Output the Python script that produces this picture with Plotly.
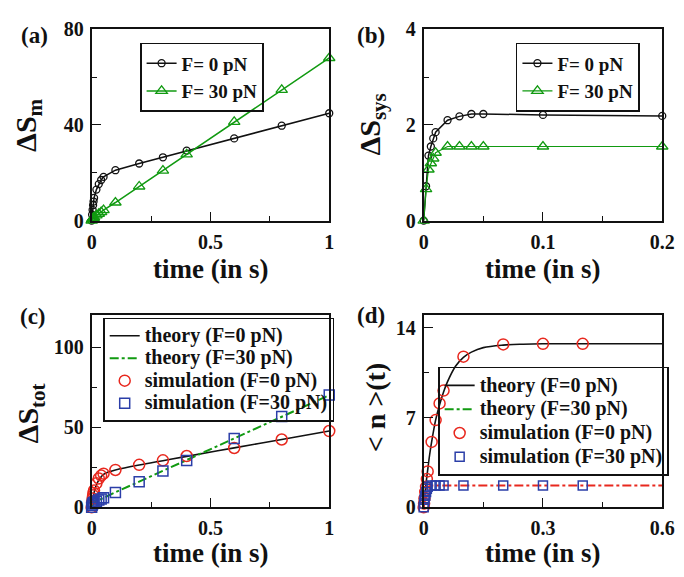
import plotly.graph_objects as go

# ---------------- data ----------------
# (a) Delta S_m
t_a = [0, 0.002, 0.004, 0.006, 0.008, 0.01, 0.02, 0.03, 0.04, 0.05, 0.1, 0.2, 0.3, 0.4, 0.6, 0.8, 1.0]
sm_f0 = [0, 2.5, 4.5, 6.5, 8.0, 9.5, 13.0, 15.3, 17.0, 18.3, 21.1, 23.9, 26.5, 29.3, 34.4, 39.7, 44.9]
sm_f30 = [0, 0.5, 0.8, 1.0, 1.2, 1.4, 2.2, 2.9, 3.6, 4.4, 7.6, 14.3, 20.9, 27.7, 41.3, 54.7, 68.0]

# (b) Delta S_sys
t_b = [0, 0.002, 0.004, 0.006, 0.008, 0.01, 0.02, 0.03, 0.04, 0.05, 0.1, 0.2]
ssys_f0 = [0, 0.72, 1.36, 1.55, 1.72, 1.85, 2.10, 2.18, 2.23, 2.23, 2.21, 2.19]
ssys_f30 = [0, 0.66, 1.07, 1.20, 1.30, 1.42, 1.55, 1.55, 1.55, 1.55, 1.55, 1.55]

# (c) Delta S_tot
t_c_th0 = [0, 0.005, 0.01, 0.02, 0.03, 0.04, 0.05, 0.07, 0.1, 0.2, 0.3, 0.4, 0.6, 0.8, 1.0]
stot_th0 = [0, 5.0, 9.0, 14.0, 17.0, 19.0, 20.5, 22.0, 23.3, 26.4, 29.1, 31.8, 37.1, 42.3, 47.6]
t_c_th30 = [0, 0.01, 0.02, 0.05, 0.1, 0.2, 0.4, 0.6, 0.8, 1.0]
stot_th30 = [0, 3.0, 3.8, 6.0, 9.4, 16.0, 29.4, 43.0, 56.5, 70.0]
t_c_sim = [0, 0.002, 0.004, 0.006, 0.008, 0.01, 0.02, 0.03, 0.04, 0.05, 0.1, 0.2, 0.3, 0.4, 0.6, 0.8, 1.0]
stot_sim0 = [0, 3.0, 5.5, 7.5, 9.0, 10.5, 15.0, 18.0, 19.8, 21.0, 23.3, 26.5, 29.3, 32.0, 37.0, 42.3, 47.6]
stot_sim30 = [0, 1.3, 2.0, 2.5, 2.8, 3.1, 3.8, 4.5, 5.2, 5.9, 9.2, 16.0, 22.6, 29.2, 43.0, 56.6, 70.0]

# (d) <n>(t)
t_d_th0 = [0, 0.005, 0.01, 0.015, 0.02, 0.03, 0.04, 0.05, 0.06, 0.08, 0.1, 0.12, 0.15, 0.2, 0.25, 0.3, 0.4, 0.5, 0.6]
n_th0 = [0, 1.6, 2.9, 4.1, 5.1, 6.8, 8.0, 9.0, 9.8, 11.0, 11.7, 12.1, 12.45, 12.65, 12.72, 12.75, 12.75, 12.75, 12.75]
t_d_th30 = [0, 0.002, 0.005, 0.01, 0.02, 0.6]
n_th30 = [0, 0.7, 1.3, 1.6, 1.7, 1.7]
t_d_sim0 = [0, 0.001, 0.002, 0.004, 0.006, 0.008, 0.01, 0.02, 0.03, 0.04, 0.05, 0.1, 0.2, 0.3, 0.4]
n_sim0 = [0, 0.3, 0.7, 1.2, 1.6, 2.2, 2.8, 5.1, 6.8, 8.1, 9.1, 11.75, 12.7, 12.75, 12.75]
t_d_sim30 = [0, 0.001, 0.002, 0.004, 0.006, 0.008, 0.01, 0.02, 0.03, 0.04, 0.05, 0.1, 0.2, 0.3, 0.4]
n_sim30 = [0, 0.3, 0.6, 0.9, 1.2, 1.45, 1.6, 1.7, 1.7, 1.7, 1.7, 1.7, 1.7, 1.7, 1.7]

# ---------------- style ----------------
W, H = 684, 577
FONT = "Liberation Serif"
BLACK = "#111111"
GREEN = "#119a11"
RED = "#e8281e"
BLUE = "#2b3ea8"

def px(x):
    return x / W

def py(y):
    return 1 - y / H

def big(name, size):
    return '<span style="font-size:%dpx">%s</span>' % (size, name)

fig = go.Figure()

# (a)
fig.add_trace(go.Scatter(x=t_a, y=sm_f0, mode="lines+markers", name="F= 0 pN",
                         line=dict(color=BLACK, width=1.5),
                         marker=dict(symbol="circle-open", size=7, color=BLACK, line=dict(width=1.3)),
                         xaxis="x", yaxis="y", legend="legend", cliponaxis=False))
fig.add_trace(go.Scatter(x=t_a, y=sm_f30, mode="lines+markers", name="F= 30 pN",
                         line=dict(color=GREEN, width=1.5),
                         marker=dict(symbol="triangle-up-open", size=10, color=GREEN, line=dict(width=1.3)),
                         xaxis="x", yaxis="y", legend="legend", cliponaxis=False))
# (b)
fig.add_trace(go.Scatter(x=t_b, y=ssys_f0, mode="lines+markers", name="F= 0 pN",
                         line=dict(color=BLACK, width=1.5),
                         marker=dict(symbol="circle-open", size=7, color=BLACK, line=dict(width=1.3)),
                         xaxis="x2", yaxis="y2", legend="legend2", cliponaxis=False))
fig.add_trace(go.Scatter(x=t_b, y=ssys_f30, mode="lines+markers", name="F= 30 pN",
                         line=dict(color=GREEN, width=1.2),
                         marker=dict(symbol="triangle-up-open", size=10, color=GREEN, line=dict(width=1.3)),
                         xaxis="x2", yaxis="y2", legend="legend2", cliponaxis=False))
# (c)
LC = 20
fig.add_trace(go.Scatter(x=t_c_th0, y=stot_th0, mode="lines", name=big("theory (F=0 pN)", LC),
                         line=dict(color=BLACK, width=1.6, shape="spline"),
                         xaxis="x3", yaxis="y3", legend="legend3"))
fig.add_trace(go.Scatter(x=t_c_th30, y=stot_th30, mode="lines", name=big("theory (F=30 pN)", LC),
                         line=dict(color=GREEN, width=2, dash="dashdot"),
                         xaxis="x3", yaxis="y3", legend="legend3"))
fig.add_trace(go.Scatter(x=t_c_sim, y=stot_sim0, mode="markers", name=big("simulation (F=0 pN)", LC),
                         marker=dict(symbol="circle-open", size=11, color=RED, line=dict(width=1.5)),
                         xaxis="x3", yaxis="y3", legend="legend3", cliponaxis=False))
fig.add_trace(go.Scatter(x=t_c_sim, y=stot_sim30, mode="markers", name=big("simulation (F=30 pN)", LC),
                         marker=dict(symbol="square-open", size=10, color=BLUE, line=dict(width=1.5)),
                         xaxis="x3", yaxis="y3", legend="legend3", cliponaxis=False))
# (d)
LD = 20
fig.add_trace(go.Scatter(x=t_d_th0, y=n_th0, mode="lines", name=big("theory (F=0 pN)", LD),
                         line=dict(color=BLACK, width=1.6, shape="spline"),
                         xaxis="x4", yaxis="y4", legend="legend4"))
fig.add_trace(go.Scatter(x=[None], y=[None], mode="lines", name=big("theory (F=30 pN)", LD),
                         line=dict(color=GREEN, width=2, dash="dashdot"),
                         xaxis="x4", yaxis="y4", legend="legend4"))
fig.add_trace(go.Scatter(x=t_d_th30, y=n_th30, mode="lines", name="theory (F=30 pN)",
                         line=dict(color=RED, width=2, dash="dashdot"), showlegend=False,
                         xaxis="x4", yaxis="y4"))
fig.add_trace(go.Scatter(x=t_d_sim0, y=n_sim0, mode="markers", name=big("simulation (F=0 pN)", LD),
                         marker=dict(symbol="circle-open", size=11, color=RED, line=dict(width=1.5)),
                         xaxis="x4", yaxis="y4", legend="legend4", cliponaxis=False))
fig.add_trace(go.Scatter(x=t_d_sim30, y=n_sim30, mode="markers", name=big("simulation (F=30 pN)", LD),
                         marker=dict(symbol="square-open", size=9, color=BLUE, line=dict(width=1.5)),
                         xaxis="x4", yaxis="y4", legend="legend4", cliponaxis=False))

tickfont = dict(family=FONT, size=20, color=BLACK, weight="bold")

def ax(domain, rng, dtick, minor, anchor):
    return dict(domain=domain, range=rng, dtick=dtick, tick0=0, anchor=anchor,
                showgrid=False, zeroline=False, showline=True, linecolor=BLACK, linewidth=2,
                mirror=True, ticks="inside", ticklen=9, tickwidth=1.3, tickcolor=BLACK,
                minor=dict(dtick=minor, tick0=0, ticks="inside", ticklen=5, tickwidth=1.3, tickcolor=BLACK),
                tickfont=tickfont, ticklabelstandoff=2)

colA = [px(89), px(333)]
colB = [px(430), px(675)]
rowTop = [py(218), py(19)]
rowBot = [py(516), py(316)]

def legend_style(size):
    return dict(font=dict(family=FONT, size=size, color=BLACK, weight="bold"),
                bgcolor="rgba(255,255,255,0)", bordercolor=BLACK, borderwidth=1.6,
                xanchor="right", yanchor="top", itemwidth=30, tracegroupgap=0)

fig.update_layout(
    width=W, height=H,
    margin=dict(l=0, r=0, t=0, b=0),
    paper_bgcolor="white", plot_bgcolor="white",
    showlegend=True,
    xaxis=ax(colA, [0, 1], 0.5, 0.25, "y"),
    yaxis=ax(rowTop, [0, 80], 40, 20, "x"),
    xaxis2=ax(colB, [0, 0.2], 0.1, 0.05, "y2"),
    yaxis2=ax(rowTop, [0, 4], 2, 1, "x2"),
    xaxis3=ax(colA, [0, 1], 0.5, 0.25, "y3"),
    yaxis3=ax(rowBot, [0, 120], 50, 25, "x3"),
    xaxis4=ax(colB, [0, 0.6], 0.3, 0.15, "y4"),
    yaxis4=ax(rowBot, [0, 15], 7, 3.5, "x4"),
    legend=dict(x=px(266), y=py(33), **legend_style(19)),
    legend2=dict(x=px(652), y=py(33), **legend_style(19)),
    legend3=dict(x=px(338), y=py(319), **legend_style(15)),
    legend4=dict(x=px(682), y=py(370), **legend_style(16)),
)

def ann(text, x, y, size, angle=0):
    fig.add_annotation(text=text, x=px(x), y=py(y), xref="paper", yref="paper",
                       showarrow=False, textangle=angle, xanchor="center", yanchor="middle",
                       font=dict(family=FONT, size=size, color=BLACK, weight="bold"))

# panel labels
ann("(a)", 30, 25, 23)
ann("(b)", 376, 25, 23)
ann("(c)", 29, 318, 23)
ann("(d)", 376, 317, 23)
# x titles
ann("time (in s)", 211, 268, 27)
ann("time (in s)", 552, 268, 27)
ann("time (in s)", 211, 563, 27)
ann("time (in s)", 552, 563, 27)
# y titles
ann("ΔS<sub>m</sub>", 23, 118, 30, -90)
ann("ΔS<sub>sys</sub>", 376, 118, 30, -90)
ann("ΔS<sub>tot</sub>", 26, 418, 30, -90)
ann("&lt; n &gt;(t)", 380, 413, 28, -90)

fig.write_html("out.html")
